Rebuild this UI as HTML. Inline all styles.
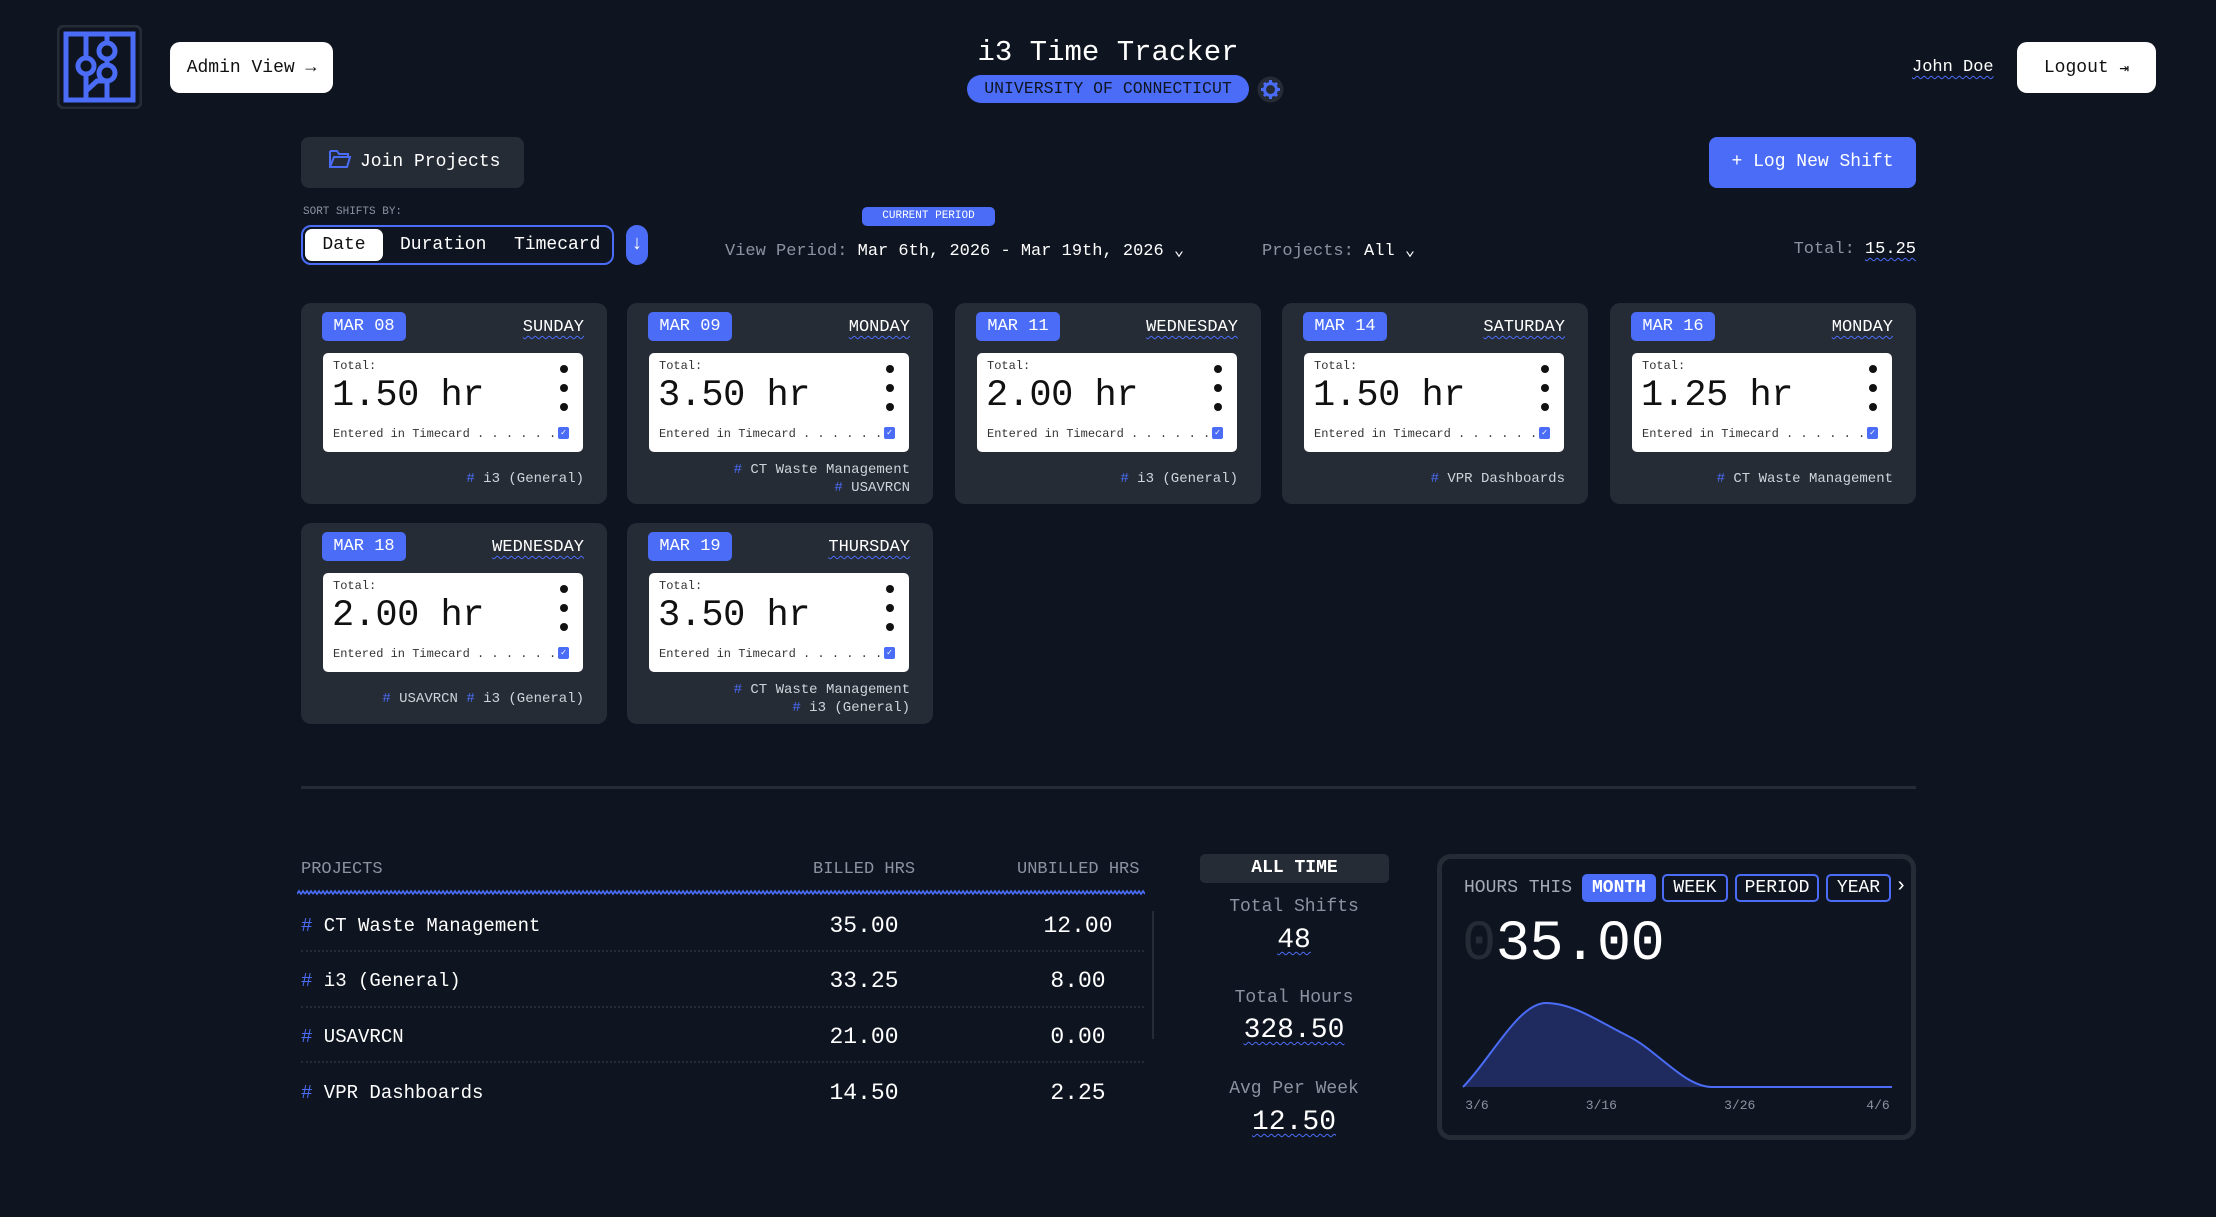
<!DOCTYPE html>
<html><head><meta charset="utf-8">
<style>
*{box-sizing:border-box;margin:0;padding:0}
body{width:2216px;height:1217px;background:#0f1520;font-family:"Liberation Mono",monospace;color:#fff;position:relative;overflow:hidden}
.a{position:absolute}
.wavy{text-decoration:underline wavy #4a6cf7;text-decoration-thickness:1px;text-underline-offset:4px}
.btnw{background:#fff;color:#111;border-radius:10px;display:flex;align-items:center;justify-content:center;font-size:18px}
.card{position:absolute;width:306px;height:201px;background:#262c36;border-radius:10px}
.pill{position:absolute;left:21px;top:9px;width:84px;height:29px;background:#4a6cf7;border-radius:5px;font-size:17px;line-height:29px;text-align:center;color:#fff}
.day{position:absolute;right:23px;top:15px;font-size:17px;color:#fff}
.box{position:absolute;left:22px;top:50px;width:260px;height:99px;background:#fff;border-radius:5px;color:#111}
.box .t{position:absolute;left:10px;top:6px;font-size:12px;color:#333}
.box .n{position:absolute;left:9px;top:22px;font-size:37px;color:#111;letter-spacing:-0.5px}
.box .e{position:absolute;left:10px;top:74px;font-size:12px;color:#333;white-space:pre}
.box .d{position:absolute;left:237px;width:8px;height:8px;border-radius:50%;background:#111}
.box .c{position:absolute;left:235px;top:74px;width:11px;height:12px;background:#4a6cf7;border-radius:2px;color:#fff;font-size:9px;line-height:12px;text-align:center}
.tags{position:absolute;right:23px;font-size:14px;color:#cfd3da;text-align:right;line-height:18px;white-space:pre}
.tags b{color:#4a6cf7;font-weight:normal}
.th{position:absolute;top:860px;font-size:17px;color:#8b93a1}
.pn{position:absolute;left:301px;font-size:19px;color:#fff}
.pn b{color:#4a6cf7;font-weight:normal}
.val{position:absolute;font-size:23px;color:#fff;width:120px;text-align:center}
.sep{position:absolute;left:301px;width:843px;border-top:2px dotted #262c36}
.stl{position:absolute;left:1194px;width:200px;text-align:center;font-size:18px;color:#8b93a1}
.stv{position:absolute;left:1194px;width:200px;text-align:center;font-size:28px;color:#fff}
.tab{position:absolute;top:874px;height:28px;border:2px solid #4a6cf7;border-radius:5px;font-size:18px;line-height:24px;text-align:center;color:#fff}
</style></head><body>

<svg class="a" style="left:57px;top:25px" width="85" height="84" viewBox="0 0 85 84">
<rect x="1" y="1" width="83" height="82" rx="6" fill="#0f1520" stroke="#262c36" stroke-width="3"/>
<rect x="9" y="9" width="67" height="66" fill="none" stroke="#4a6cf7" stroke-width="5"/>
<g fill="none" stroke="#4a6cf7" stroke-width="5">
<circle cx="29" cy="41" r="8"/><circle cx="50" cy="26" r="8"/><circle cx="50" cy="48" r="8"/>
<path d="M29 9V33M29 49V75M50 9V18M50 34V40M50 56V75M29 66L40 56H50"/>
</g></svg>

<div class="a btnw" style="left:170px;top:42px;width:163px;height:51px">Admin View →</div>

<div class="a" style="left:908px;top:36px;width:400px;text-align:center;font-size:29px;color:#fff">i3 Time Tracker</div>
<div class="a" style="left:967px;top:75px;width:282px;height:28px;background:#4a6cf7;border-radius:14px;color:#0f1520;font-size:16.5px;line-height:28px;text-align:center">UNIVERSITY OF CONNECTICUT</div>
<svg class="a" style="left:1257px;top:76px" width="27" height="27" viewBox="0 0 27 27">
<circle cx="13.5" cy="13.5" r="13" fill="#262c36"/><circle cx="13.5" cy="13.5" r="6" fill="none" stroke="#4a6cf7" stroke-width="3"/>
<g stroke="#4a6cf7" stroke-width="3"><path d="M13.5 4v4M13.5 19v4M4 13.5h4M19 13.5h4M7 7l3 3M17 17l3 3M20 7l-3 3M10 17l-3 3"/></g></svg>

<div class="a wavy" style="left:1912px;top:58px;font-size:17px;color:#fff">John Doe</div>
<div class="a btnw" style="left:2017px;top:42px;width:139px;height:51px">Logout&nbsp;<span style="font-size:16px">⇥</span></div>

<div class="a" style="left:301px;top:137px;width:223px;height:51px;background:#262c36;border-radius:8px;font-size:18px;line-height:51px;padding-left:27px">
<svg width="24" height="20" viewBox="0 0 24 20" style="vertical-align:-3px;margin-right:8px"><path d="M2 2h7l2 3h9v3M2 2v16h17l3-10H6L2 18" fill="none" stroke="#4a6cf7" stroke-width="2"/></svg>Join Projects</div>
<div class="a" style="left:1709px;top:137px;width:207px;height:51px;background:#4a6cf7;border-radius:8px;font-size:18px;line-height:51px;text-align:center;color:#fff">+ Log New Shift</div>

<div class="a" style="left:303px;top:206px;font-size:11px;color:#8b93a1">SORT SHIFTS BY:</div>
<div class="a" style="left:301px;top:225px;width:313px;height:40px;border:2px solid #4a6cf7;border-radius:10px"></div>
<div class="a" style="left:305px;top:229px;width:78px;height:32px;background:#fff;border-radius:7px;color:#111;font-size:18px;line-height:32px;text-align:center">Date</div>
<div class="a" style="left:400px;top:235px;font-size:18px;color:#fff">Duration</div>
<div class="a" style="left:514px;top:235px;font-size:18px;color:#fff">Timecard</div>
<div class="a" style="left:626px;top:225px;width:22px;height:40px;background:#4a6cf7;border-radius:11px;color:#fff;font-size:20px;line-height:40px;text-align:center">↓</div>

<div class="a" style="left:862px;top:207px;width:133px;height:19px;background:#4a6cf7;border-radius:5px;color:#fff;font-size:11px;line-height:19px;text-align:center">CURRENT PERIOD</div>
<div class="a" style="left:725px;top:240px;font-size:17px;color:#8b93a1;white-space:pre">View Period: <span style="color:#fff">Mar 6th, 2026 - Mar 19th, 2026 ⌄</span></div>
<div class="a" style="left:1262px;top:240px;font-size:17px;color:#8b93a1;white-space:pre">Projects: <span style="color:#fff">All ⌄</span></div>
<div class="a" style="right:300px;top:240px;font-size:17px;color:#8b93a1;white-space:pre">Total: <span class="wavy" style="color:#fff">15.25</span></div>

<!-- cards -->
<div class="card" style="left:301px;top:303px">
<div class="pill">MAR 08</div><div class="day wavy">SUNDAY</div>
<div class="box"><div class="t">Total:</div><div class="n">1.50 hr</div><div class="e">Entered in Timecard . . . . . .</div><div class="d" style="top:12px"></div><div class="d" style="top:31px"></div><div class="d" style="top:50px"></div><div class="c">✓</div></div>
<div class="tags" style="top:167px"><b>#</b> i3 (General)</div></div>

<div class="card" style="left:627px;top:303px">
<div class="pill">MAR 09</div><div class="day wavy">MONDAY</div>
<div class="box"><div class="t">Total:</div><div class="n">3.50 hr</div><div class="e">Entered in Timecard . . . . . .</div><div class="d" style="top:12px"></div><div class="d" style="top:31px"></div><div class="d" style="top:50px"></div><div class="c">✓</div></div>
<div class="tags" style="top:158px"><b>#</b> CT Waste Management
<b>#</b> USAVRCN</div></div>

<div class="card" style="left:955px;top:303px">
<div class="pill">MAR 11</div><div class="day wavy">WEDNESDAY</div>
<div class="box"><div class="t">Total:</div><div class="n">2.00 hr</div><div class="e">Entered in Timecard . . . . . .</div><div class="d" style="top:12px"></div><div class="d" style="top:31px"></div><div class="d" style="top:50px"></div><div class="c">✓</div></div>
<div class="tags" style="top:167px"><b>#</b> i3 (General)</div></div>

<div class="card" style="left:1282px;top:303px">
<div class="pill">MAR 14</div><div class="day wavy">SATURDAY</div>
<div class="box"><div class="t">Total:</div><div class="n">1.50 hr</div><div class="e">Entered in Timecard . . . . . .</div><div class="d" style="top:12px"></div><div class="d" style="top:31px"></div><div class="d" style="top:50px"></div><div class="c">✓</div></div>
<div class="tags" style="top:167px"><b>#</b> VPR Dashboards</div></div>

<div class="card" style="left:1610px;top:303px">
<div class="pill">MAR 16</div><div class="day wavy">MONDAY</div>
<div class="box"><div class="t">Total:</div><div class="n">1.25 hr</div><div class="e">Entered in Timecard . . . . . .</div><div class="d" style="top:12px"></div><div class="d" style="top:31px"></div><div class="d" style="top:50px"></div><div class="c">✓</div></div>
<div class="tags" style="top:167px"><b>#</b> CT Waste Management</div></div>

<div class="card" style="left:301px;top:523px">
<div class="pill">MAR 18</div><div class="day wavy">WEDNESDAY</div>
<div class="box"><div class="t">Total:</div><div class="n">2.00 hr</div><div class="e">Entered in Timecard . . . . . .</div><div class="d" style="top:12px"></div><div class="d" style="top:31px"></div><div class="d" style="top:50px"></div><div class="c">✓</div></div>
<div class="tags" style="top:167px"><b>#</b> USAVRCN <b>#</b> i3 (General)</div></div>

<div class="card" style="left:627px;top:523px">
<div class="pill">MAR 19</div><div class="day wavy">THURSDAY</div>
<div class="box"><div class="t">Total:</div><div class="n">3.50 hr</div><div class="e">Entered in Timecard . . . . . .</div><div class="d" style="top:12px"></div><div class="d" style="top:31px"></div><div class="d" style="top:50px"></div><div class="c">✓</div></div>
<div class="tags" style="top:158px"><b>#</b> CT Waste Management
<b>#</b> i3 (General)</div></div>

<div class="a" style="left:301px;top:786px;width:1615px;height:3px;background:#262c36"></div>

<!-- projects table -->
<div class="th" style="left:301px">PROJECTS</div>
<div class="th" style="left:813px">BILLED HRS</div>
<div class="th" style="left:1017px">UNBILLED HRS</div>
<svg class="a" style="left:297px;top:889px" width="848" height="8">
<defs><pattern id="wv" width="8" height="8" patternUnits="userSpaceOnUse"><path d="M0 5 L2 2 L4 5 L6 2 L8 5" fill="none" stroke="#4a6cf7" stroke-width="1.6"/></pattern></defs>
<rect width="848" height="8" fill="url(#wv)"/></svg>

<div class="pn" style="top:915px"><b>#</b> CT Waste Management</div>
<div class="val" style="left:804px;top:913px">35.00</div>
<div class="val" style="left:1018px;top:913px">12.00</div>
<div class="sep" style="top:950px"></div>
<div class="pn" style="top:970px"><b>#</b> i3 (General)</div>
<div class="val" style="left:804px;top:968px">33.25</div>
<div class="val" style="left:1018px;top:968px">8.00</div>
<div class="sep" style="top:1006px"></div>
<div class="pn" style="top:1026px"><b>#</b> USAVRCN</div>
<div class="val" style="left:804px;top:1024px">21.00</div>
<div class="val" style="left:1018px;top:1024px">0.00</div>
<div class="sep" style="top:1061px"></div>
<div class="pn" style="top:1082px"><b>#</b> VPR Dashboards</div>
<div class="val" style="left:804px;top:1080px">14.50</div>
<div class="val" style="left:1018px;top:1080px">2.25</div>
<div class="a" style="left:1152px;top:911px;width:2px;height:128px;background:#262c36"></div>

<!-- all time -->
<div class="a" style="left:1200px;top:854px;width:189px;height:29px;background:#262c36;border-radius:5px;font-size:18px;font-weight:bold;line-height:29px;text-align:center">ALL TIME</div>
<div class="stl" style="top:897px">Total Shifts</div>
<div class="stv" style="top:925px"><span class="wavy">48</span></div>
<div class="stl" style="top:988px">Total Hours</div>
<div class="stv" style="top:1015px"><span class="wavy">328.50</span></div>
<div class="stl" style="top:1079px">Avg Per Week</div>
<div class="stv" style="top:1107px"><span class="wavy">12.50</span></div>

<!-- hours chart card -->
<div class="a" style="left:1437px;top:854px;width:479px;height:286px;border:5px solid #262c36;border-radius:14px"></div>
<div class="a" style="left:1464px;top:878px;font-size:18px;color:#a4abb6">HOURS THIS</div>
<div class="tab" style="left:1582px;width:74px;background:#4a6cf7;font-weight:bold">MONTH</div>
<div class="tab" style="left:1662px;width:66px">WEEK</div>
<div class="tab" style="left:1735px;width:84px">PERIOD</div>
<div class="tab" style="left:1826px;width:65px">YEAR</div>
<div class="a" style="left:1895px;top:875px;font-size:20px;color:#fff">›</div>
<div class="a" style="left:1462px;top:913px;font-size:57px;color:#fff;letter-spacing:-0.5px"><span style="color:#262c36">0</span>35.00</div>

<svg class="a" id="chart" style="left:1450px;top:990px" width="460" height="130"></svg>

<script>
const days = [0, 6, 12, 18, 24, 31];
const hours = [0, 20, 12, 0, 0, 0];
const tickDays = [0, 10, 20, 31];
const tickLabels = ['3/6', '3/16', '3/26', '4/6'];
const yMax = 20;

const NS = 'http://www.w3.org/2000/svg';
const svg = document.getElementById('chart');
const X0 = 13, X1 = 442, BASE = 97, TOP = 13;
function xs(d){ return X0 + (d - days[0]) / (31 - days[0]) * (X1 - X0); }
function ys(v){ return BASE - v / yMax * (BASE - TOP); }

const px = days.map(xs), py = hours.map(ys);
const n = px.length, dx = [], m = [], t = [];
for (let i = 0; i < n - 1; i++){ dx.push(px[i+1]-px[i]); m.push((py[i+1]-py[i])/(px[i+1]-px[i])); }
t[0] = m[0]; t[n-1] = m[n-2];
for (let i = 1; i < n - 1; i++){ t[i] = (m[i-1]*m[i] <= 0) ? 0 : 3*(dx[i-1]+dx[i]) / ((2*dx[i]+dx[i-1])/m[i-1] + (dx[i]+2*dx[i-1])/m[i]); }
let d = 'M' + px[0] + ' ' + py[0];
for (let i = 0; i < n - 1; i++){
  const h = dx[i];
  d += ' C' + (px[i]+h/3) + ' ' + (py[i]+t[i]*h/3) + ' ' + (px[i+1]-h/3) + ' ' + (py[i+1]-t[i+1]*h/3) + ' ' + px[i+1] + ' ' + py[i+1];
}
const area = document.createElementNS(NS, 'path');
area.setAttribute('d', d + ' L' + px[n-1] + ' ' + BASE + ' L' + px[0] + ' ' + BASE + ' Z');
area.setAttribute('fill', '#1f2b5e');


svg.appendChild(area);
const line = document.createElementNS(NS, 'path');
line.setAttribute('d', d);
line.setAttribute('fill', 'none');
line.setAttribute('stroke', '#4a6cf7');
line.setAttribute('stroke-width', '2');


svg.appendChild(line);
tickDays.forEach((td, i) => {
  const tx = document.createElementNS(NS, 'text');
  tx.setAttribute('x', Math.min(Math.max(xs(td), X0 + 14), X1 - 14));
  tx.setAttribute('y', 119);
  tx.setAttribute('text-anchor', 'middle');
  tx.setAttribute('font-family', 'Liberation Mono, monospace');
  tx.setAttribute('font-size', '13');
  tx.setAttribute('fill', '#8b93a1');
  tx.textContent = tickLabels[i];
  
  
  svg.appendChild(tx);
});
</script>
</body></html>
